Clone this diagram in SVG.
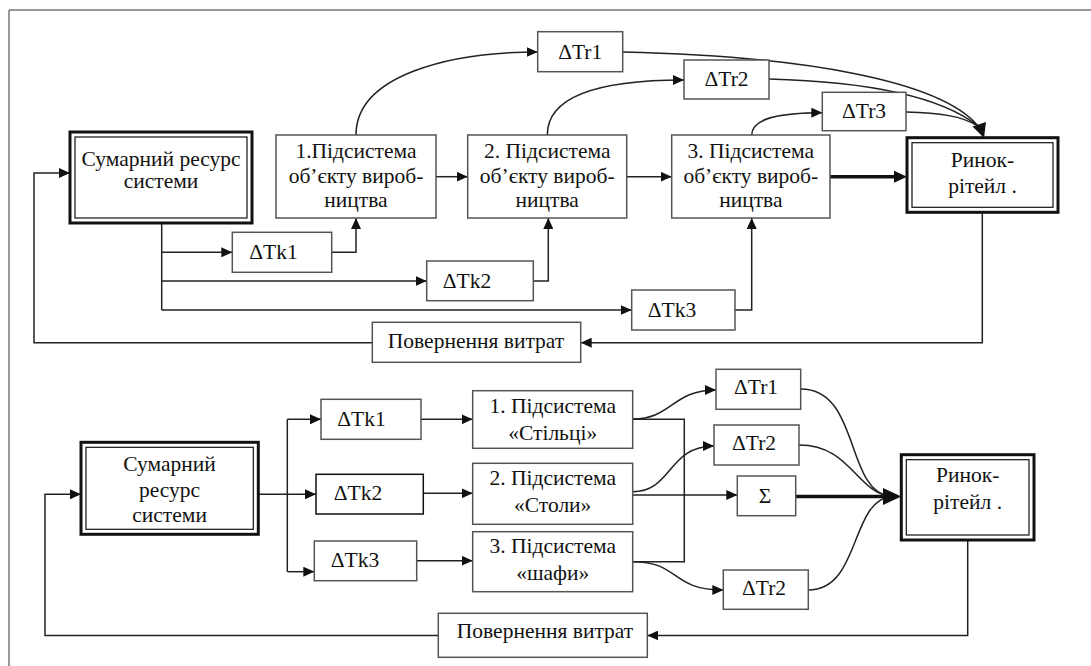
<svg xmlns="http://www.w3.org/2000/svg" width="1091" height="666" viewBox="0 0 1091 666" font-family="Liberation Serif, serif">
<style>
text{font-family:"Liberation Serif",serif;font-size:21.5px;fill:#111;text-anchor:middle}
.box{fill:#fff;stroke:#555;stroke-width:1.5}
.dbo{fill:#fff;stroke:#111;stroke-width:3}
.dbi{fill:none;stroke:#111;stroke-width:1.2}
.c{fill:none;stroke:#222;stroke-width:1.5}
.ca{fill:none;stroke:#222;stroke-width:1.5;marker-end:url(#ah)}
.thick{fill:none;stroke:#111;stroke-width:3.5}
</style>
<defs>
<marker id="ah" markerUnits="userSpaceOnUse" markerWidth="11" markerHeight="10" refX="11" refY="5" orient="auto">
<path d="M0,0 L11,5 L0,10 z" fill="#111"/>
</marker>
</defs>
<rect width="1091" height="666" fill="#fff"/>
<path d="M9,10 H1091 M9,10 V666" fill="none" stroke="#777" stroke-width="1.5"/>

<g id="connectors">
<path class="ca" d="M436,176.7 H467.7"/>
<path class="ca" d="M627,176.7 H671.7"/>
<path class="thick" d="M830,176.7 H896"/>
<path d="M907,176.7 L894,170.7 L894,182.7 z" fill="#111"/>
<path class="c" d="M161.7,223 V310"/>
<path class="ca" d="M161.7,252.3 H232.3"/>
<path class="ca" d="M331.7,252.3 H356 V218"/>
<path class="ca" d="M161.7,281 H426.7"/>
<path class="ca" d="M533.3,281 H548.3 V218"/>
<path class="ca" d="M161.7,310 H631.7"/>
<path class="ca" d="M735,310 H751.7 V218"/>
<path class="ca" d="M982.3,212 V342.7 H580.7"/>
<path class="ca" d="M372.3,342.7 H34 V173 H70"/>
<path class="ca" d="M356,135 C356,75 450,52 537.7,52"/>
<path class="ca" d="M547.3,135 C547.3,95 600,80 684,80"/>
<path class="ca" d="M751.7,135 C751.7,118 780,112.7 822.3,112.7"/>
<path class="c" d="M622.7,52 C800,56 940,80 978,126"/>
<path class="c" d="M769,79 C880,82 945,100 978,126"/>
<path class="c" d="M906,112 C940,113 962,116 978,126"/>
<path d="M984,138 L972.5,126.5 L986,122 z" fill="#111"/>
<path class="ca" d="M258.3,494.3 H316"/>
<path class="c" d="M287.3,419.3 V571.7"/>
<path class="ca" d="M287.3,419.3 H321"/>
<path class="ca" d="M287.3,571.7 H314.3"/>
<path class="ca" d="M421,419.3 H472.7"/>
<path class="ca" d="M423.3,493.3 H472.7"/>
<path class="ca" d="M416.7,560.7 H472.7"/>
<path class="c" d="M632.7,419.3 H684.3 V561.7 H632.7"/>
<path class="ca" d="M632.7,495 H737.3"/>
<path class="ca" d="M632.7,419 C672,419 672,390 716,390"/>
<path class="ca" d="M632.7,491.7 C672,491.7 668,446 714,446"/>
<path class="ca" d="M632.7,561.7 C680,561.7 670,590 723.3,590"/>
<path class="thick" d="M795.7,496.5 H886"/>
<path class="c" d="M800.7,389 C860,389 845,490 890,496.5"/>
<path class="c" d="M799,445 C850,445 855,490 890,496.5"/>
<path class="c" d="M808.3,590 C860,590 850,503 890,496.5"/>
<path d="M901.3,496.5 L883,488 L883,505 z" fill="#111"/>
<path class="ca" d="M967.7,540 V635.5 H647.3"/>
<path class="ca" d="M438.3,635.5 H45 V494.3 H81"/>
</g>

<g id="n-sum-top">
<rect class="dbo" x="70" y="132" width="182" height="91"/>
<rect class="dbi" x="75" y="137" width="172" height="81"/>
<text x="161" y="166">Сумарний ресурс</text>
<text x="161" y="188">системи</text>
</g>
<g id="n-sub1-top">
<rect class="box" x="276" y="135" width="160" height="83"/>
<text x="356" y="158">1.Підсистема</text>
<text x="356" y="183">об’єкту вироб-</text>
<text x="356" y="207">ництва</text>
</g>
<g id="n-sub2-top">
<rect class="box" x="467.7" y="135" width="159" height="83"/>
<text x="547.2" y="158">2. Підсистема</text>
<text x="547.2" y="183">об’єкту вироб-</text>
<text x="547.2" y="207">ництва</text>
</g>
<g id="n-sub3-top">
<rect class="box" x="671.7" y="135" width="158.3" height="83"/>
<text x="750.8" y="158">3. Підсистема</text>
<text x="750.8" y="183">об’єкту вироб-</text>
<text x="750.8" y="207">ництва</text>
</g>
<g id="n-market-top">
<rect class="dbo" x="907" y="137.7" width="151" height="74.6"/>
<rect class="dbi" x="912" y="142.7" width="141" height="64.6"/>
<text x="982.5" y="167">Ринок-</text>
<text x="982.5" y="193">рітейл .</text>
</g>
<g id="n-tr1-top">
<rect class="box" x="537.7" y="31.7" width="85" height="40"/>
<text x="580.2" y="58.5">ΔTr1</text>
</g>
<g id="n-tr2-top">
<rect class="box" x="684" y="60" width="85" height="39"/>
<text x="726.5" y="86">ΔTr2</text>
</g>
<g id="n-tr3-top">
<rect class="box" x="822.3" y="92.3" width="83.7" height="38.4"/>
<text x="864" y="118">ΔTr3</text>
</g>
<g id="n-tk1-top">
<rect class="box" x="232.3" y="232.3" width="99.4" height="40"/>
<text x="273.5" y="259">ΔTk1</text>
</g>
<g id="n-tk2-top">
<rect class="box" x="426.7" y="261" width="106.6" height="39.7"/>
<text x="467" y="288">ΔTk2</text>
</g>
<g id="n-tk3-top">
<rect class="box" x="631.7" y="290" width="103.3" height="40"/>
<text x="672" y="317">ΔTk3</text>
</g>
<g id="n-return-top">
<rect class="box" x="372.3" y="322.3" width="208.4" height="40"/>
<text x="476" y="348">Повернення витрат</text>
</g>

<g id="n-sum-bot">
<rect class="dbo" x="81" y="442.3" width="177.3" height="92"/>
<rect class="dbi" x="86" y="447.3" width="167.3" height="82"/>
<text x="169.6" y="471">Сумарний</text>
<text x="169.6" y="497">ресурс</text>
<text x="169.6" y="522">системи</text>
</g>
<g id="n-tk1-bot">
<rect class="box" x="321" y="399.3" width="100" height="40"/>
<text x="361.5" y="426">ΔTk1</text>
</g>
<g id="n-tk2-bot">
<rect class="box" x="316" y="474.3" width="107.3" height="39.7" style="stroke:#111"/>
<text x="358" y="500">ΔTk2</text>
</g>
<g id="n-tk3-bot">
<rect class="box" x="314.3" y="541" width="102.4" height="39.7"/>
<text x="355" y="567">ΔTk3</text>
</g>
<g id="n-sub1-bot">
<rect class="box" x="472.7" y="390.7" width="160" height="57.6"/>
<text x="552.7" y="413">1. Підсистема</text>
<text x="552.7" y="440">«Стільці»</text>
</g>
<g id="n-sub2-bot">
<rect class="box" x="472.7" y="463.3" width="160" height="61"/>
<text x="552.7" y="485">2. Підсистема</text>
<text x="552.7" y="512">«Столи»</text>
</g>
<g id="n-sub3-bot">
<rect class="box" x="472.7" y="531.7" width="160" height="60"/>
<text x="552.7" y="553">3. Підсистема</text>
<text x="552.7" y="580">«шафи»</text>
</g>
<g id="n-tr1-bot">
<rect class="box" x="716" y="369.3" width="84.7" height="40"/>
<text x="756" y="393.5">ΔTr1</text>
</g>
<g id="n-tr2-bot">
<rect class="box" x="714" y="425" width="85" height="40"/>
<text x="754" y="449.5">ΔTr2</text>
</g>
<g id="n-sigma">
<rect class="box" x="737.3" y="476" width="58.4" height="39.7"/>
<text x="765" y="503">Σ</text>
</g>
<g id="n-tr2b-bot">
<rect class="box" x="723.3" y="570" width="85" height="39.3"/>
<text x="764" y="595">ΔTr2</text>
</g>
<g id="n-market-bot">
<rect class="dbo" x="901.3" y="454.7" width="132.7" height="85.3"/>
<rect class="dbi" x="906.3" y="459.7" width="122.7" height="75.3"/>
<text x="967.7" y="482">Ринок-</text>
<text x="967.7" y="509">рітейл .</text>
</g>
<g id="n-return-bot">
<rect class="box" x="438.3" y="613.3" width="209" height="44"/>
<text x="545" y="638">Повернення витрат</text>
</g>
</svg>
